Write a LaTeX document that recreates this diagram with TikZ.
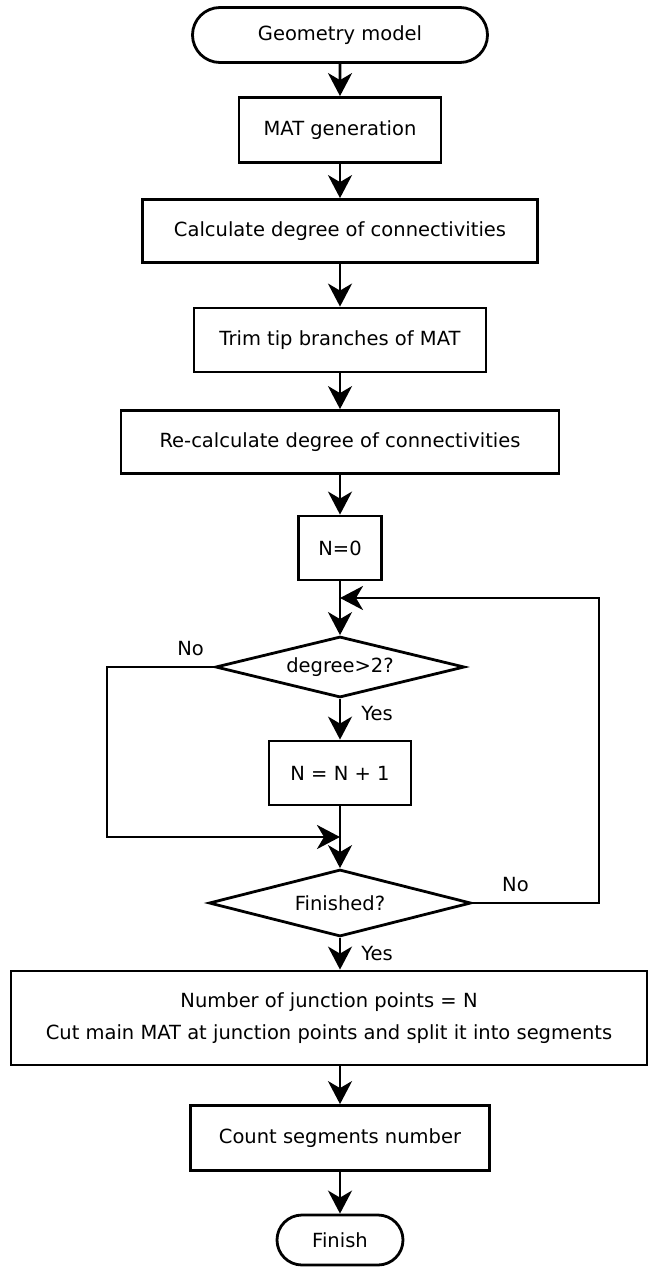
\documentclass[tikz,border=0pt]{standalone}
\usepackage{fontspec}
\setmainfont{DejaVu Sans}
\usetikzlibrary{arrows.meta,positioning,shapes.geometric,shapes.misc}

\begin{document}
\begin{tikzpicture}[
  x=1pt,y=-1pt,
  font=\fontsize{19.5}{23.5}\selectfont,
  box/.style={draw,line width=2.8pt,align=center,inner sep=2pt},
  term/.style={draw,line width=2.8pt,rounded rectangle,inner sep=2pt},
  dec/.style={draw,line width=2.8pt,diamond,aspect=4,inner sep=0pt},
  lbl/.style={inner sep=0pt},
  arr/.style={-{Stealth[length=23pt,width=24pt,inset=7pt]},line width=2.8pt}
]
\useasboundingbox (0,0) rectangle (652,1268);

\node[term,minimum width=299pt,minimum height=55pt] (geo) at (340,35) {Geometry model};
\node[box,minimum width=202pt,minimum height=65pt] (mat) at (340,130) {MAT generation};
\node[box,minimum width=395pt,minimum height=63pt] (degcalc) at (340,231) {Calculate degree of connectivities};
\node[box,minimum width=292pt,minimum height=64pt] (trim) at (340,340) {Trim tip branches of MAT};
\node[box,minimum width=438pt,minimum height=63pt] (recalc) at (340,442) {Re-calculate degree of connectivities};
\node[box,minimum width=83pt,minimum height=64pt] (nzero) at (340,548) {N=0};
\draw[arr] (geo)--(mat);
\draw[arr] (mat)--(degcalc);
\draw[arr] (degcalc)--(trim);
\draw[arr] (trim)--(recalc);
\draw[arr] (recalc)--(nzero);

% counting loop
\node[dec,minimum width=249pt,minimum height=61pt] (deg) at (340,667) {degree>2?};
\node[box,minimum width=142pt,minimum height=64pt] (inc) at (340,773) {N = N + 1};
\node[dec,minimum width=262pt,minimum height=67pt] (fin) at (340,903) {Finished?};
\coordinate (back) at (340,598);
\coordinate (join) at (340,837);
\coordinate (rt) at (599,598);
\coordinate (lt) at (107,837);
\draw[arr] (nzero)--(deg);
\draw[arr] (deg) -- node[lbl,right=20pt,pos=0.35] {Yes} (inc);
\draw[arr] (inc)--(fin);
\draw[arr] (deg.west) -- node[lbl,above=10pt,pos=0.22] {No} (deg.west -| lt) -- (lt) -- (join);
\draw[arr] (fin.east) -- node[lbl,above=10pt,pos=0.34] {No} (fin.east -| rt) -- (rt) -- (back);

\node[box,minimum width=636pt,minimum height=94pt] (res) at (329,1018)
  {Number of junction points = N\\[9pt]Cut main MAT at junction points and split it into segments};
\node[box,minimum width=299pt,minimum height=65pt] (cnt) at (340,1138) {Count segments number};
\node[term,minimum width=130pt,minimum height=50pt] (stop) at (340,1240) {Finish};
\draw[arr] (fin) -- node[lbl,right=20pt,pos=0.5] {Yes} (fin |- res.north);
\draw[arr] (res.south -| cnt) -- (cnt);
\draw[arr] (cnt)--(stop);
\end{tikzpicture}
\end{document}
